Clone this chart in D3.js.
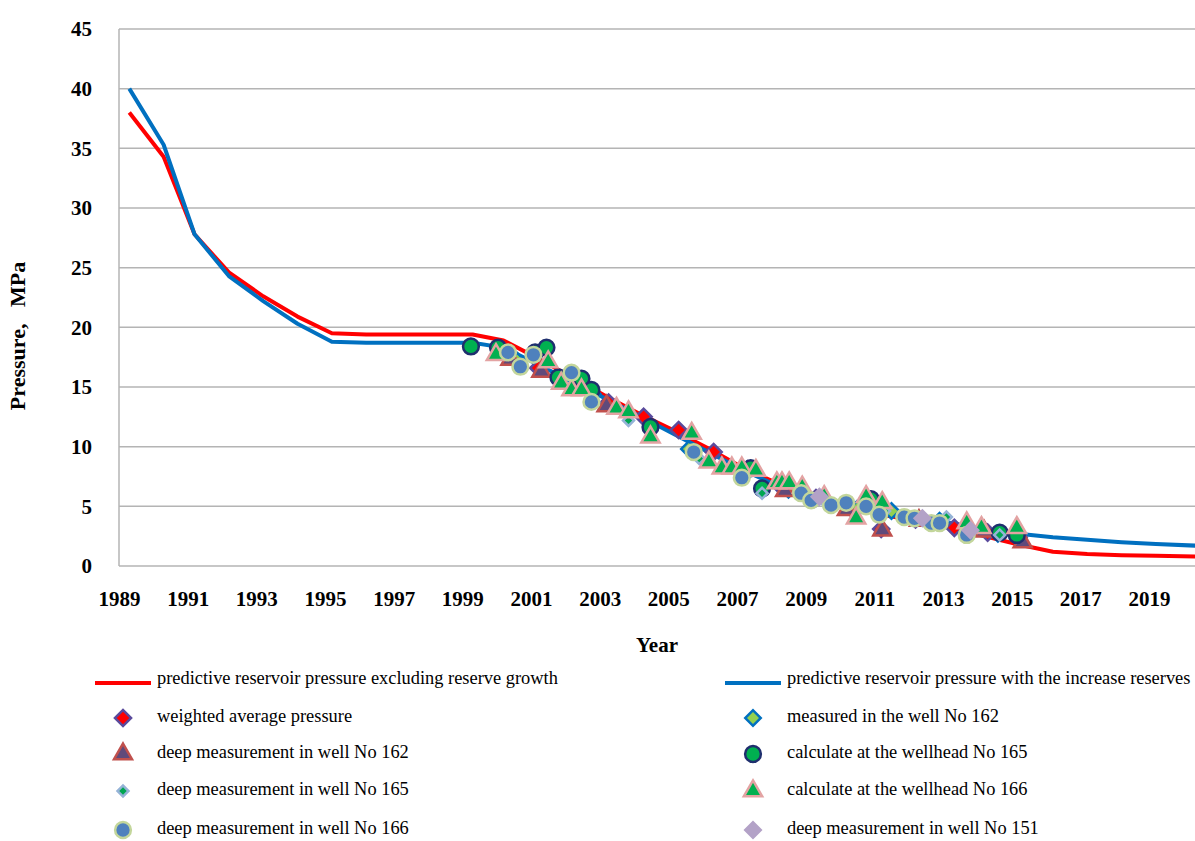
<!DOCTYPE html>
<html>
<head>
<meta charset="utf-8">
<script src="https://d3js.org/d3.v7.min.js"></script>
<style>
  body { margin: 0; background: #fff; }
  svg { display: block; font-family: "Liberation Serif", "Times New Roman", serif; }
</style>
</head>
<body>
<svg width="1195" height="841"></svg>
<script>
// forecast lines (year, MPa)
var lineYears = [1989.3, 1990.3, 1991.2, 1992.2, 1993.2, 1994.2, 1995.2, 1996.2, 1997.2, 1998.2, 1999.3,
  2000.2, 2001.2, 2002.2, 2003.2, 2004.2, 2005.2, 2006.2, 2007.2, 2008.2, 2009.2, 2010.2, 2011.2, 2012.2,
  2013.2, 2014.2, 2015.2, 2016.2, 2017.2, 2018.2, 2019.2, 2020.4];
var redValues = [38, 34.3, 27.8, 24.6, 22.6, 20.9, 19.5, 19.4, 19.4, 19.4, 19.4,
  18.9, 17.4, 15.8, 14.2, 12.7, 11.3, 9.8, 8.2, 6.9, 5.9, 5.0, 4.3, 3.8,
  3.2, 2.5, 1.8, 1.2, 1.0, 0.9, 0.85, 0.8];
var blueValues = [40, 35.3, 27.8, 24.3, 22.2, 20.3, 18.8, 18.7, 18.7, 18.7, 18.7,
  18.3, 16.9, 15.4, 14.0, 12.5, 11.0, 9.5, 8.0, 6.7, 5.8, 4.9, 4.4, 4.0,
  3.6, 3.1, 2.7, 2.4, 2.2, 2.0, 1.85, 1.7];

// measurements [year, MPa]
var weightedAvg = [[2001.21,16.6],[2003.26,13.7],[2004.28,12.5],[2005.3,11.4],[2006.32,9.55],[2007.3,8.1],
  [2008.3,6.6],[2009.3,5.7],[2010.3,4.9],[2011.2,3.1],[2012.2,3.9],[2013.33,3.2],[2014.3,2.8],[2015.2,2.4]];
var measured162 = [[2000.6,17.2],[2002.8,14.4],[2005.6,9.8],[2007.2,7.6],[2008.5,6.4],[2010.5,4.8],
  [2011.5,4.6],[2012.9,3.8],[2014.6,2.7]];
var deep162 = [[2000.4,17.3],[2001.3,16.3],[2002.3,15.0],[2003.2,13.4],[2008.4,6.3],[2010.2,4.7],
  [2011.23,3.0],[2012.3,3.8],[2014.2,2.9],[2015.32,2.0]];
var wellhead165 = [[1999.25,18.4],[2000.04,18.3],[2001.12,17.9],[2001.45,18.3],[2001.8,15.8],[2002.47,15.7],
  [2002.76,14.75],[2004.48,11.65],[2007.4,8.2],[2007.73,6.5],[2010.9,5.6],[2014.65,2.8],[2015.15,2.6]];
var deep165 = [[2003.84,12.2],[2005.9,9.0],[2007.73,6.1],[2009.6,5.3],[2011.3,4.6],[2013.1,4.1],[2014.65,2.6]];
var wellhead166 = [[1999.98,17.7],[2001.5,17.1],[2001.88,15.3],[2002.18,14.75],[2002.47,14.75],[2003.49,13.2],
  [2003.84,12.9],[2004.48,10.8],[2005.68,11.1],[2006.18,8.7],[2006.56,8.2],[2006.85,8.2],[2007.14,8.2],
  [2007.55,8.0],[2008.16,6.95],[2008.31,6.95],[2008.52,6.95],[2008.9,6.6],[2009.54,5.8],[2010.47,4.0],
  [2010.76,5.8],[2011.23,5.3],[2013.69,3.6],[2014.12,3.2],[2015.15,3.2]];
var deep166 = [[2000.33,17.9],[2000.69,16.7],[2001.07,17.7],[2002.18,16.2],[2002.76,13.75],[2005.74,9.55],
  [2007.14,7.4],[2008.87,6.1],[2009.16,5.5],[2009.74,5.1],[2010.18,5.3],[2010.76,5.0],[2011.14,4.3],
  [2011.87,4.1],[2012.17,4.0],[2012.66,3.6],[2012.9,3.6],[2013.69,2.6]];
var deep151 = [[2009.4,5.8],[2012.4,4.0],[2013.8,3.0]];

var yearTicks = d3.range(1989, 2020, 2);
var pressureTicks = d3.range(0, 46, 5);

var lineNames = ["predictive reservoir pressure excluding reserve growth",
                 "predictive reservoir pressure with the increase reserves"];

var svg = d3.select("svg");
var plotL = 119, plotR = 1195, plotT = 29, plotB = 566;

var x = d3.scaleLinear().domain([1989, 2020.34]).range([plotL, plotR]);
var y = d3.scaleLinear().domain([0, 45]).range([plotB, plotT]);

// grid
svg.append("g")
  .selectAll("line")
  .data(pressureTicks)
  .enter().append("line")
    .attr("x1", plotL).attr("x2", plotR)
    .attr("y1", function(d) { return y(d); })
    .attr("y2", function(d) { return y(d); })
    .style("stroke", "#b4b4b4")
    .style("stroke-width", 1.5);

svg.append("line")
  .attr("x1", plotL).attr("x2", plotL)
  .attr("y1", plotT).attr("y2", plotB)
  .style("stroke", "#b4b4b4").style("stroke-width", 1.5);

// axes (labels only)
var yAxis = svg.append("g")
  .attr("transform", "translate(" + (plotL - 27) + ",0)")
  .call(d3.axisLeft(y).tickValues(pressureTicks).tickSize(0).tickPadding(0));
var xAxis = svg.append("g")
  .attr("transform", "translate(0," + (plotB + 23) + ")")
  .call(d3.axisBottom(x).tickValues(yearTicks).tickFormat(d3.format("d")).tickSize(0).tickPadding(0));
[yAxis, xAxis].forEach(function(a) {
  a.select(".domain").remove();
  a.selectAll("text")
    .style("font-family", "Liberation Serif")
    .style("font-weight", "bold")
    .style("font-size", "21px")
    .style("fill", "#000");
});
xAxis.selectAll("text").attr("dy", "0.8em");

svg.append("text")
  .attr("transform", "translate(25,336) rotate(-90)")
  .attr("text-anchor", "middle")
  .style("font-size", "22px")
  .style("font-weight", "bold")
  .style("white-space", "pre")
  .text("Pressure,   MPa");

svg.append("text")
  .attr("x", 657).attr("y", 652)
  .attr("text-anchor", "middle")
  .style("font-size", "21px")
  .style("font-weight", "bold")
  .text("Year");

// lines
svg.append("clipPath").attr("id", "plot")
  .append("rect").attr("x", plotL).attr("y", 0).attr("width", plotR - plotL).attr("height", plotB);

var line = d3.line()
  .x(function(d) { return x(d[0]); })
  .y(function(d) { return y(d[1]); });

var lines = svg.append("g").attr("clip-path", "url(#plot)");
lines.append("path")
  .datum(d3.zip(lineYears, redValues))
  .attr("d", line)
  .style("fill", "none").style("stroke", "#ff0000").style("stroke-width", 4)
  .style("stroke-linejoin", "round");
lines.append("path")
  .datum(d3.zip(lineYears, blueValues))
  .attr("d", line)
  .style("fill", "none").style("stroke", "#0070c0").style("stroke-width", 4)
  .style("stroke-linejoin", "round");

// scatter series, in Excel drawing order
var series = [
  {name: "weighted average pressure", data: weightedAvg, shape: "diamond", size: 130, fill: "#ff0000", stroke: "#5a4a9c", col: 0, row: 1},
  {name: "measured in the well No 162", data: measured162, shape: "diamond", size: 120, fill: "#92d050", stroke: "#0070c0", col: 1, row: 1},
  {name: "deep measurement in well No 162", data: deep162, shape: "triangle", size: 140, fill: "#604a7b", stroke: "#c0504d", col: 0, row: 2},
  {name: "calculate at the wellhead No 165", data: wellhead165, shape: "circle", size: 195, fill: "#00b050", stroke: "#1f2f6e", col: 1, row: 2},
  {name: "deep measurement in well No 165", data: deep165, shape: "diamond", size: 60, fill: "#00a651", stroke: "#95b3d7", col: 0, row: 3},
  {name: "calculate at the wellhead No 166", data: wellhead166, shape: "triangle", size: 145, fill: "#00b050", stroke: "#e3a3a3", col: 1, row: 3},
  {name: "deep measurement in well No 166", data: deep166, shape: "circle", size: 195, fill: "#4f81bd", stroke: "#c3d69b", col: 0, row: 4},
  {name: "deep measurement in well No 151", data: deep151, shape: "diamond", size: 120, fill: "#b3a2c7", stroke: "#b3a2c7", col: 1, row: 4}
];

function symbolPath(s) {
  var type = s.shape === "circle" ? d3.symbolCircle : s.shape === "triangle" ? d3.symbolTriangle : d3.symbolSquare;
  return d3.symbol().type(type).size(s.size)();
}
function rot(s) { return s.shape === "diamond" ? " rotate(45)" : ""; }

series.forEach(function(s) {
  svg.append("g")
    .selectAll("path")
    .data(s.data)
    .enter().append("path")
      .attr("d", symbolPath(s))
      .attr("transform", function(d) { return "translate(" + x(d[0]) + "," + y(d[1]) + ")" + rot(s); })
      .style("fill", s.fill)
      .style("stroke", s.stroke)
      .style("stroke-width", 2.5);
});

// legend
var colX = [95, 725], rowY = [684, 722, 758, 795, 834];
var legend = svg.append("g").style("font-size", "18.4px");

[["#ff0000", 0], ["#0070c0", 1]].forEach(function(l) {
  var x0 = colX[l[1]];
  legend.append("line")
    .attr("x1", x0).attr("x2", x0 + 56)
    .attr("y1", rowY[0] - 1).attr("y2", rowY[0] - 1)
    .style("stroke", l[0]).style("stroke-width", 4);
  legend.append("text")
    .attr("x", x0 + 62).attr("y", rowY[0])
    .text(lineNames[l[1]]);
});

series.forEach(function(s) {
  var x0 = colX[s.col], y0 = rowY[s.row];
  legend.append("path")
    .attr("d", symbolPath(s))
    .attr("transform", "translate(" + (x0 + 28) + "," + (y0 - 4) + ")" + rot(s))
    .style("fill", s.fill)
    .style("stroke", s.stroke)
    .style("stroke-width", 2.5);
  legend.append("text")
    .attr("x", x0 + 62).attr("y", y0)
    .text(s.name);
});
</script>
</body>
</html>
